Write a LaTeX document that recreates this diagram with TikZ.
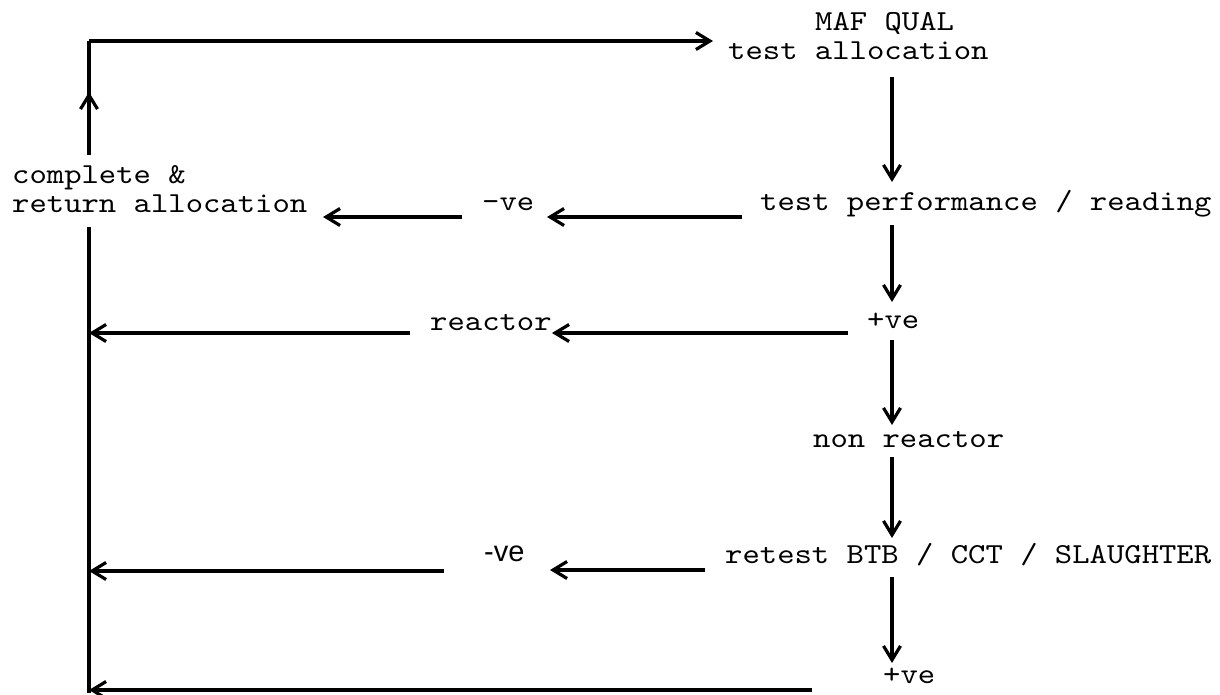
\documentclass[tikz,border=0pt]{standalone}
\usepackage{fontspec}
\setmonofont[FakeStretch=1.14]{lmmono10-regular.otf}
\newfontfamily\helv{Liberation Sans}
\usetikzlibrary{arrows.meta}
\begin{document}
\begin{tikzpicture}[x=1pt,y=-1pt,
  lbl/.style={inner sep=0pt, anchor=base west, font=\fontsize{29}{32}\selectfont\ttfamily},
  sanslbl/.style={inner sep=0pt, anchor=base west, font=\fontsize{29}{32}\selectfont\helv},
  conn/.style={line width=3.2pt, -{Straight Barb[length=14pt,width=17pt,line width=3.2pt]}},
  plain/.style={line width=3.2pt}]
\useasboundingbox (0,0) rectangle (1220,695);

% text nodes
\node[lbl] (maf) at (815,31) {MAF QUAL};
\node[lbl] (alloc) at (728,60) {test allocation};
\node[lbl] (comp) at (12,183) {complete \&};
\node[lbl] (ret) at (12,212) {return allocation};
\node[lbl] (perf) at (760,211) {test performance / reading};
\node[lbl] (neg1) at (482,211) {-ve};
\node[lbl] (react) at (430,330) {reactor};
\node[lbl] (pos1) at (867,328) {+ve};
\node[lbl] (nonr) at (813,447) {non reactor};
\node[lbl] (retest) at (725,563) {retest BTB / CCT / SLAUGHTER};
\node[sanslbl] (neg2) at (484,561) {-ve};
\node[lbl] (pos2) at (883,683) {+ve};

% connector end points
\coordinate (upS) at (89,155);
\coordinate (upT) at (89,92);
\coordinate (tl) at (89,41);
\coordinate (topT) at (713,41);
\coordinate (lowTop) at (89,227);
\coordinate (lowBot) at (89,693);

\coordinate (r1a) at (742,217); \coordinate (r1b) at (547,217);
\coordinate (r1c) at (462,217); \coordinate (r1d) at (323,217);
\coordinate (r2a) at (848,333); \coordinate (r2b) at (552,333);
\coordinate (r2c) at (410,333); \coordinate (r2d) at (89,333);
\coordinate (r3a) at (705,570); \coordinate (r3b) at (550,570);
\coordinate (r3c) at (444,571); \coordinate (r3d) at (89,571);
\coordinate (bta) at (812,690); \coordinate (btb) at (89,690);

\coordinate (v1a) at (892,77);  \coordinate (v1b) at (892,182);
\coordinate (v2a) at (892,225); \coordinate (v2b) at (892,302);
\coordinate (v3a) at (892,340); \coordinate (v3b) at (892,425);
\coordinate (v4a) at (892,457); \coordinate (v4b) at (892,538);
\coordinate (v5a) at (892,577); \coordinate (v5b) at (892,663);

% left loop
\draw[conn] (upS) -- (upT);
\draw[plain] (upS) -- (tl);
\draw[conn] (tl) -- (topT);
\draw[plain] (lowTop) -- (lowBot);

% horizontal returns
\draw[conn] (r1a) -- (r1b);
\draw[conn] (r1c) -- (r1d);
\draw[conn] (r2a) -- (r2b);
\draw[conn] (r2c) -- (r2d);
\draw[conn] (r3a) -- (r3b);
\draw[conn] (r3c) -- (r3d);
\draw[conn] (bta) -- (btb);

% main column
\draw[conn] (v1a) -- (v1b);
\draw[conn] (v2a) -- (v2b);
\draw[conn] (v3a) -- (v3b);
\draw[conn] (v4a) -- (v4b);
\draw[conn] (v5a) -- (v5b);
\end{tikzpicture}
\end{document}
